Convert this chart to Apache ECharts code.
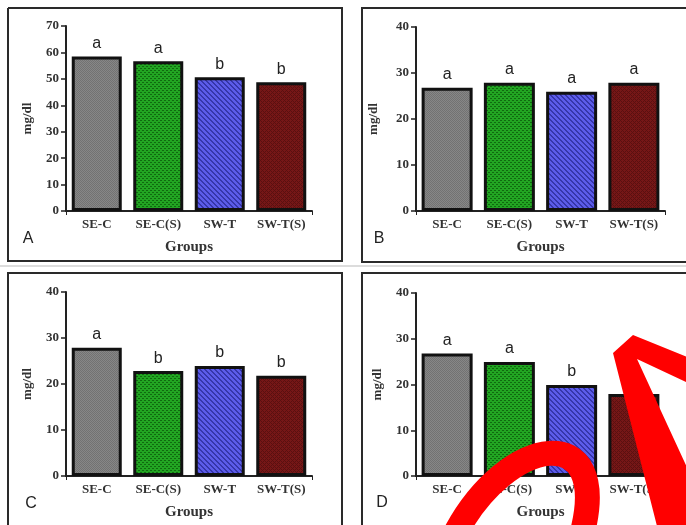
<!DOCTYPE html>
<html>
<head>
<meta charset="utf-8">
<script src="https://cdn.jsdelivr.net/npm/echarts@6/dist/echarts.min.js"></script>
<style>
html,body{margin:0;padding:0;background:#fff;}
#chart{width:686px;height:525px;}
</style>
</head>
<body>
<div id="chart"></div>
<script>
// ---- data ----
const categories = ['SE-C', 'SE-C(S)', 'SW-T', 'SW-T(S)'];
const valuesA = [58.5, 56.7, 50.6, 48.7];
const valuesB = [26.8, 27.9, 25.9, 27.9];
const valuesC = [27.9, 22.8, 23.9, 21.8];
const valuesD = [26.8, 24.9, 19.9, 17.9];
const lettersA = ['a', 'a', 'b', 'b'];
const lettersB = ['a', 'a', 'a', 'a'];
const lettersC = ['a', 'b', 'b', 'b'];
const lettersD = ['a', 'a', 'b', ''];
const yMaxA = 70, yMaxOther = 40, yStep = 10;
const panelLabels = ['A', 'B', 'C', 'D'];
const yAxisName = 'mg/dl';
const xAxisName = 'Groups';

// ---- patterns ----
function makePattern(w, h, base, dark, isDark) {
  const c = document.createElement('canvas');
  c.width = w; c.height = h;
  const ctx = c.getContext('2d');
  ctx.fillStyle = base; ctx.fillRect(0, 0, w, h);
  ctx.fillStyle = dark;
  for (let y = 0; y < h; y++) for (let x = 0; x < w; x++) if (isDark(x, y)) ctx.fillRect(x, y, 1, 1);
  return { image: c, repeat: 'repeat' };
}
const fills = [
  makePattern(2, 2, '#878787', '#727272', (x, y) => (x + y) % 2 === 0),
  makePattern(4, 4, '#22a522', '#0f6a0f', (x, y) => (y === 0 && x < 2) || (y === 2 && x >= 2)),
  makePattern(5, 5, '#5c5cea', '#3636aa', (x, y) => ((x - y + 10) % 5) < 2),
  makePattern(4, 4, '#761717', '#5a1010', (x, y) => ((x + y) % 4 === 0) || ((x - y + 8) % 4 === 0))
];

const serif = 'Liberation Serif';
const sans = 'Liberation Sans';

const panels = [
  { vals: valuesA, letters: lettersA, max: yMaxA, grid: { left: 66, top: 26, width: 246, height: 185 }, yGap: 32, bw: 50 },
  { vals: valuesB, letters: lettersB, max: yMaxOther, grid: { left: 416, top: 27, width: 249, height: 184 }, yGap: 36, bw: 51 },
  { vals: valuesC, letters: lettersC, max: yMaxOther, grid: { left: 66, top: 292, width: 246, height: 184 }, yGap: 32, bw: 50 },
  { vals: valuesD, letters: lettersD, max: yMaxOther, grid: { left: 416, top: 293, width: 249, height: 183 }, yGap: 32, bw: 51 }
];

const grids = [], xAxes = [], yAxes = [], series = [];
panels.forEach((p, k) => {
  grids.push(p.grid);
  xAxes.push({
    type: 'category', gridIndex: k, data: categories,
    axisLine: { show: true, lineStyle: { color: '#222', width: 2 } },
    axisTick: { show: true, length: 4, interval: (i) => i === 2, lineStyle: { color: '#222', width: 1 } },
    axisLabel: { interval: 0, fontFamily: serif, fontWeight: 'bold', fontSize: 13, color: '#333', margin: 7 },
    name: xAxisName, nameLocation: 'middle', nameGap: 29,
    nameTextStyle: { fontFamily: serif, fontWeight: 'bold', fontSize: 15, color: '#333' }
  });
  yAxes.push({
    type: 'value', gridIndex: k, min: 0, max: p.max, interval: yStep,
    axisLine: { show: true, lineStyle: { color: '#222', width: 2 } },
    axisTick: { show: true, length: 5, lineStyle: { color: '#222', width: 1.5 } },
    splitLine: { show: false },
    axisLabel: { fontFamily: serif, fontWeight: 'bold', fontSize: 13, color: '#333', margin: 7 },
    name: yAxisName, nameLocation: 'middle', nameGap: p.yGap,
    nameTextStyle: { fontFamily: serif, fontWeight: 'bold', fontSize: 13, color: '#333' }
  });
  series.push({
    type: 'bar', xAxisIndex: k, yAxisIndex: k, barWidth: p.bw,
    data: p.vals.map((v, i) => ({ value: v, itemStyle: { color: fills[i] } })),
    itemStyle: { borderColor: '#111', borderWidth: 3 },
    label: {
      show: true, position: 'top', distance: 5,
      formatter: (q) => p.letters[q.dataIndex],
      fontFamily: sans, fontSize: 16, color: '#222'
    },
    silent: true, animation: false
  });
});

const boxStyle = { stroke: '#2a2a2a', lineWidth: 2, fill: null };
const graphics = [
  { type: 'line', shape: { x1: 0, y1: 266, x2: 686, y2: 266 }, style: { stroke: '#dcdcdc', lineWidth: 2 } },
  { type: 'polyline', shape: { points: [[8, 8], [342, 8], [342, 261], [8, 261], [8, 8]] }, style: boxStyle },
  { type: 'polyline', shape: { points: [[690, 8], [362, 8], [362, 262], [690, 262]] }, style: boxStyle },
  { type: 'polyline', shape: { points: [[8, 530], [8, 273], [342, 273], [342, 530]] }, style: boxStyle },
  { type: 'polyline', shape: { points: [[362, 530], [362, 273], [690, 273]] }, style: boxStyle },
  { type: 'text', x: 28, y: 239, style: { text: panelLabels[0], font: '16px ' + sans, fill: '#222', align: 'center', verticalAlign: 'middle' } },
  { type: 'text', x: 379, y: 239, style: { text: panelLabels[1], font: '16px ' + sans, fill: '#222', align: 'center', verticalAlign: 'middle' } },
  { type: 'text', x: 31, y: 504, style: { text: panelLabels[2], font: '16px ' + sans, fill: '#222', align: 'center', verticalAlign: 'middle' } },
  { type: 'text', x: 382, y: 503, style: { text: panelLabels[3], font: '16px ' + sans, fill: '#222', align: 'center', verticalAlign: 'middle' } },
  // red annotation marks over panel D
  { type: 'bezierCurve', z: 100, shape: { x1: 455, y1: 534, x2: 582, y2: 534, cpx1: 507, cpy1: 435, cpx2: 612, cpy2: 418 }, style: { stroke: '#ff0000', lineWidth: 25, fill: null } },
  { type: 'polygon', z: 100, shape: { points: [[613, 353], [633, 335], [690, 358], [690, 384], [637, 359], [690, 474], [690, 530], [658, 530]] }, style: { fill: '#ff0000' } }
];

const chart = echarts.init(document.getElementById('chart'), null, { renderer: 'canvas' });
chart.setOption({
  backgroundColor: '#ffffff',
  animation: false,
  grid: grids, xAxis: xAxes, yAxis: yAxes, series: series,
  graphic: graphics
});
</script>
</body>
</html>
